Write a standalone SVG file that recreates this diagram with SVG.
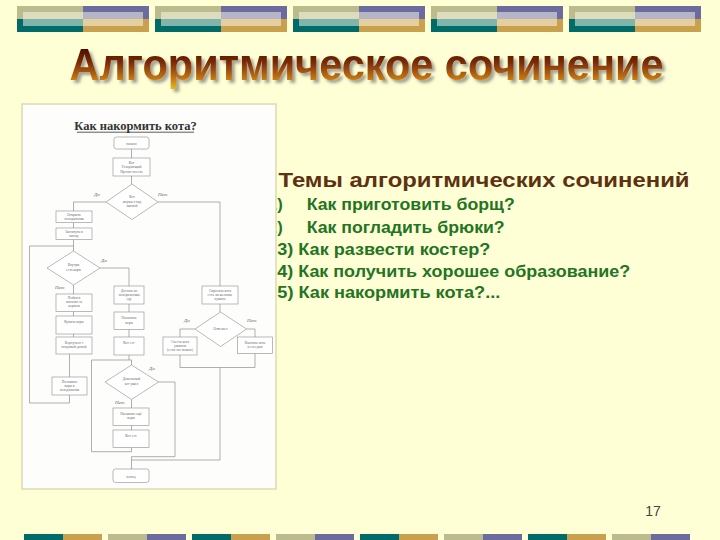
<svg xmlns="http://www.w3.org/2000/svg" width="720" height="540" viewBox="0 0 720 540">
<defs>
<style>
.bx{fill:#fff;stroke:#8c8c8c;stroke-width:0.6}
.cn{fill:none;stroke:#8c8c8c;stroke-width:0.7}
.ft{font-family:"Liberation Serif","DejaVu Serif",serif;font-size:3.6px;fill:#6a6a6a;text-anchor:middle}
.fl{font-family:"Liberation Serif","DejaVu Serif",serif;font-size:5px;font-style:italic;fill:#666}
.g{font-family:"Liberation Sans",Arial,sans-serif;font-weight:bold;font-size:16.5px;fill:#237423}
.t1{fill:#006b68}.t2{fill:#c8a04e}.t3{fill:#bbbb8e}.t4{fill:#6b6b9f}
</style>
<linearGradient id="tg" x1="0" y1="48" x2="0" y2="90" gradientUnits="userSpaceOnUse">
<stop offset="0" stop-color="#4a0c02"/>
<stop offset="0.35" stop-color="#7c2c06"/>
<stop offset="0.7" stop-color="#c07010"/>
<stop offset="1" stop-color="#e8c028"/>
</linearGradient>
<filter id="sh" x="-5%" y="-30%" width="110%" height="170%">
<feGaussianBlur in="SourceAlpha" stdDeviation="1.6" result="b"/>
<feOffset in="b" dx="3" dy="3" result="o"/>
<feFlood flood-color="#555" flood-opacity="0.55"/>
<feComposite in2="o" operator="in" result="s"/>
<feMerge><feMergeNode in="s"/><feMergeNode in="SourceGraphic"/></feMerge>
</filter>
<g id="tb">
<rect x="0" y="6" width="66" height="13" class="t3"/>
<rect x="66" y="6" width="66" height="13" class="t4"/>
<rect x="0" y="19" width="66" height="13" class="t1"/>
<rect x="66" y="19" width="66" height="13" class="t2"/>
<rect x="6" y="12" width="120" height="14" fill="#ffffee" opacity="0.5"/>
</g>
<g id="bA"><rect x="0" y="534" width="39" height="6" class="t1"/><rect x="39" y="534" width="39" height="6" class="t2"/></g>
<g id="bB"><rect x="0" y="534" width="39" height="6" class="t3"/><rect x="39" y="534" width="39" height="6" class="t4"/></g>
</defs>
<rect x="0" y="0" width="720" height="540" fill="#ffffd6"/>
<g id="top-banner">
<use href="#tb" x="17"/><use href="#tb" x="155"/><use href="#tb" x="293"/><use href="#tb" x="431"/><use href="#tb" x="569"/>
</g>
<g id="bottom-banner">
<use href="#bA" x="24"/><use href="#bB" x="108"/><use href="#bA" x="192"/><use href="#bB" x="276"/>
<use href="#bA" x="360"/><use href="#bB" x="444"/><use href="#bA" x="528"/><use href="#bB" x="612"/>
</g>
<g id="title">
<text x="69.5" y="80" font-family="'Liberation Sans',Arial,sans-serif" font-weight="bold" font-size="44" fill="url(#tg)" filter="url(#sh)" textLength="594" lengthAdjust="spacingAndGlyphs">Алгоритмическое сочинение</text>
</g>
<g id="topics">
<text x="278.5" y="187" font-family="'Liberation Sans',Arial,sans-serif" font-weight="bold" font-size="20" fill="#5e3210" textLength="411" lengthAdjust="spacingAndGlyphs">Темы алгоритмических сочинений</text>
<text x="268" y="210" class="g">1)</text>
<text x="306.7" y="210" class="g" textLength="208" lengthAdjust="spacingAndGlyphs">Как приготовить борщ?</text>
<text x="268" y="232.5" class="g">2)</text>
<text x="306.7" y="232.5" class="g" textLength="198" lengthAdjust="spacingAndGlyphs">Как погладить брюки?</text>
<text x="277.3" y="255" class="g" textLength="213" lengthAdjust="spacingAndGlyphs">3) Как развести костер?</text>
<text x="277.3" y="277" class="g" textLength="353" lengthAdjust="spacingAndGlyphs">4) Как получить хорошее образование?</text>
<text x="277.3" y="298" class="g" textLength="223" lengthAdjust="spacingAndGlyphs">5) Как накормить кота?...</text>
</g>
<text id="page-number" x="653" y="516" font-family="'Liberation Sans',Arial,sans-serif" font-size="14" fill="#444" text-anchor="middle">17</text>
<g id="flowchart">
<rect x="22" y="104" width="254" height="385" fill="#fdfdfb" stroke="#dcdab0" stroke-width="1.5"/>
<text x="135.5" y="130" font-family="'Liberation Serif','DejaVu Serif',serif" font-weight="bold" font-size="12.5" fill="#333" text-anchor="middle">Как накормить кота?</text>
<line x1="77" y1="132.2" x2="194" y2="132.2" stroke="#333" stroke-width="0.8"/>
<g id="connectors" class="cn">
<path d="M131.5 149V158"/>
<path d="M131.5 176V184"/>
<path d="M106 202H73.5V211"/>
<path d="M73.5 222.5V228"/>
<path d="M73.5 239.5V251"/>
<path d="M158 202H220V286"/>
<path d="M100 268H129V286"/>
<path d="M129 304V312"/>
<path d="M129 329.5V337"/>
<path d="M129 355V360"/>
<path d="M91.5 360H131.5V365"/>
<path d="M73.5 285V294"/>
<path d="M73.5 311.5V316"/>
<path d="M73.5 334V337"/>
<path d="M69.5 354V377"/>
<path d="M69.5 395V403H29.5V246H73.5"/>
<path d="M220 304V312"/>
<path d="M195 329H180V337"/>
<path d="M246.5 329H255V337"/>
<path d="M180 355V367.5H255V353.5"/>
<path d="M220 367.5V460H131.5"/>
<path d="M131.5 399.5V408"/>
<path d="M131.5 425.5V430"/>
<path d="M131.5 447.5V451.7H91.5V360"/>
<path d="M158.5 382H175V456.7H131.5"/>
<path d="M131.5 456.7V469"/>
</g>
<g id="labels">
<text x="94" y="196" class="fl">Да</text>
<text x="158" y="196" class="fl">Нет</text>
<text x="101" y="262" class="fl">Да</text>
<text x="55" y="289" class="fl">Нет</text>
<text x="184" y="322" class="fl">Да</text>
<text x="247" y="322" class="fl">Нет</text>
<text x="149" y="370" class="fl">Да</text>
<text x="115" y="404" class="fl">Нет</text>
</g>
<g id="n-start"><rect x="114" y="137" width="35" height="12" rx="2.5" class="bx"/><text x="131.5" y="144.5" class="ft">начало</text></g>
<g id="n-cat"><rect x="113" y="158" width="37" height="18" class="bx"/><text x="131.5" y="163.5" class="ft">Кот</text><text x="131.5" y="168" class="ft">Голодающий</text><text x="131.5" y="172.5" class="ft">Просит поесть</text></g>
<g id="d-meow"><polygon points="132,184 158,202 132,219.5 106,202" class="bx"/><text x="132" y="198" class="ft">Кот</text><text x="132" y="202.5" class="ft">мяукает над</text><text x="132" y="207" class="ft">миской</text></g>
<g id="n-open"><rect x="56" y="211" width="36" height="11.5" class="bx"/><text x="74" y="215.8" class="ft">Открыть</text><text x="74" y="220" class="ft">холодильник</text></g>
<g id="n-look"><rect x="56" y="228" width="36" height="11.5" class="bx"/><text x="74" y="232.8" class="ft">Заглянуть в</text><text x="74" y="237" class="ft">миску</text></g>
<g id="d-food"><polygon points="73.5,251 100,268 73.5,285 47,268" class="bx"/><text x="73.5" y="266" class="ft">Внутри</text><text x="73.5" y="270.5" class="ft">есть корм</text></g>
<g id="n-get"><rect x="114" y="286" width="30" height="18" class="bx"/><text x="129" y="291.5" class="ft">Достать из</text><text x="129" y="295.5" class="ft">холодильника</text><text x="129" y="299.5" class="ft">еду</text></g>
<g id="n-pour"><rect x="114" y="312" width="30" height="17.5" class="bx"/><text x="129" y="319" class="ft">Насыпать</text><text x="129" y="323.5" class="ft">корм</text></g>
<g id="n-eat1"><rect x="114" y="337" width="30" height="18" class="bx"/><text x="129" y="344" class="ft">Кот ест</text></g>
<g id="n-shop"><rect x="56" y="294" width="36" height="17.5" class="bx"/><text x="74" y="299" class="ft">Пойти в</text><text x="74" y="303" class="ft">магазин за</text><text x="74" y="307" class="ft">кормом</text></g>
<g id="n-buy"><rect x="56" y="316" width="36" height="18" class="bx"/><text x="74" y="323" class="ft">Купить корм</text></g>
<g id="n-back"><rect x="56" y="337" width="36" height="17" class="bx"/><text x="74" y="343.5" class="ft">Вернуться с</text><text x="74" y="347.5" class="ft">покупкой домой</text></g>
<g id="n-put"><rect x="52" y="377" width="35" height="18" class="bx"/><text x="69.5" y="382.5" class="ft">Положить</text><text x="69.5" y="386.5" class="ft">корм в</text><text x="69.5" y="390.5" class="ft">холодильник</text></g>
<g id="n-ask"><rect x="202" y="286" width="36" height="18" class="bx"/><text x="220" y="291.5" class="ft">Спросить кота</text><text x="220" y="295.5" class="ft">есть ли желание</text><text x="220" y="299.5" class="ft">кушать</text></g>
<g id="d-answer"><polygon points="220.5,312 246.5,329 220.5,346.5 195,329" class="bx"/><text x="220.5" y="330.2" class="ft">Отвечает</text></g>
<g id="n-eatcat"><rect x="163" y="337" width="34" height="18" class="bx"/><text x="180" y="342.5" class="ft">Съесть кота</text><text x="180" y="346.5" class="ft">ужином</text><text x="180" y="350.8" class="ft">(если это можно)</text></g>
<g id="n-kick"><rect x="237.5" y="337" width="35" height="16.5" class="bx"/><text x="255" y="343.5" class="ft">Выгнать кота</text><text x="255" y="348" class="ft">к соседям</text></g>
<g id="d-full"><polygon points="131.5,365 158.5,382 131.5,399.5 105,382" class="bx"/><text x="131.5" y="380" class="ft">Довольный</text><text x="131.5" y="384.5" class="ft">кот ушёл</text></g>
<g id="n-more"><rect x="113" y="408" width="36" height="17.5" class="bx"/><text x="131" y="414.5" class="ft">Насыпать ещё</text><text x="131" y="419" class="ft">корм</text></g>
<g id="n-eat2"><rect x="113" y="430" width="36" height="17.5" class="bx"/><text x="131" y="437" class="ft">Кот ест</text></g>
<g id="n-end"><rect x="113" y="469" width="36" height="13.5" rx="2.5" class="bx"/><text x="131" y="477.5" class="ft">конец</text></g>
</g>
</svg>
